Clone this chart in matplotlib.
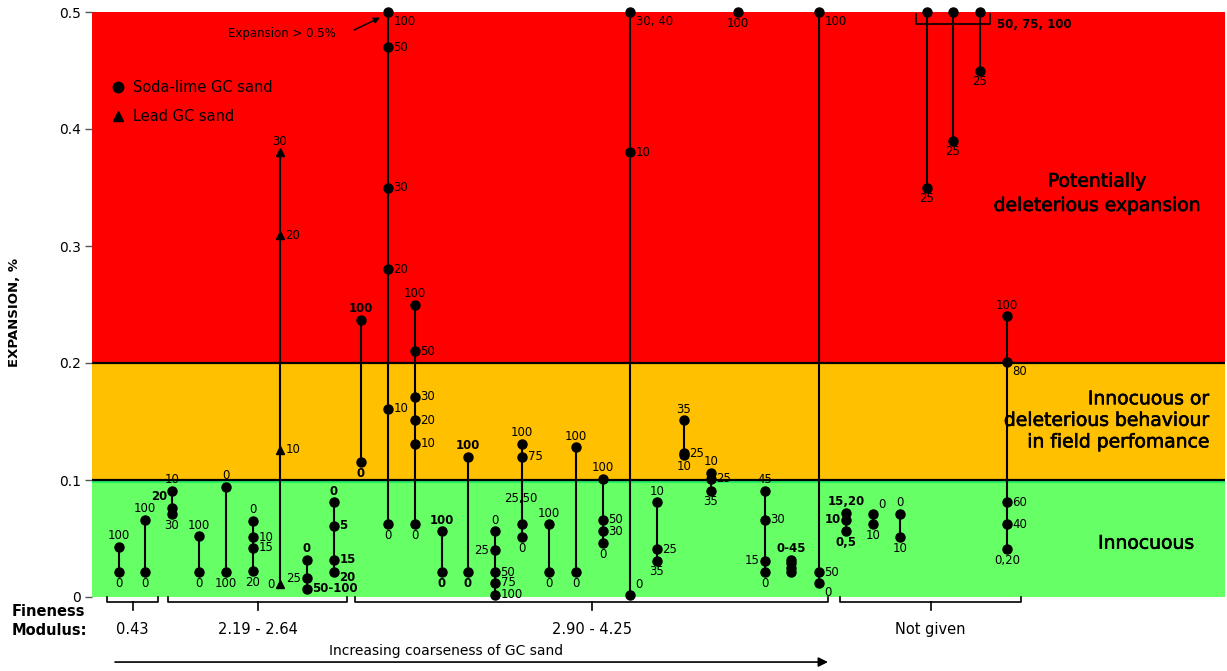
import matplotlib
matplotlib.use('Agg')
import matplotlib.pyplot as plt
import matplotlib.patheffects as pe
from matplotlib.lines import Line2D

# position of each test series along the schematic axis (left -> right)
x_pos = [119, 145, 172, 199, 226, 253, 280, 307, 334, 361, 388, 415, 442, 468, 495,
         522, 549, 576, 603, 630, 657, 684, 711, 738, 765, 791, 819, 846, 873, 900,
         927, 953, 980, 1007]

# sand type of each series
sand = ['soda'] * 34
sand[6] = 'lead'

# expansion (%) of each mix in a series
expansion = [
    [0.043, 0.021],
    [0.066, 0.021],
    [0.091, 0.076, 0.071],
    [0.052, 0.021],
    [0.094, 0.021],
    [0.065, 0.051, 0.042, 0.022],
    [0.011, 0.126, 0.309, 0.380],
    [0.032, 0.016, 0.007],
    [0.081, 0.061, 0.032, 0.021],
    [0.237, 0.115],
    [0.500, 0.470, 0.350, 0.280, 0.161, 0.062],
    [0.250, 0.210, 0.171, 0.151, 0.131, 0.062],
    [0.056, 0.021],
    [0.120, 0.021],
    [0.056, 0.040, 0.021, 0.012, 0.002],
    [0.131, 0.120, 0.062, 0.051],
    [0.062, 0.021],
    [0.128, 0.021],
    [0.101, 0.066, 0.056, 0.046],
    [0.500, 0.380, 0.002],
    [0.081, 0.041, 0.031],
    [0.151, 0.123, 0.121],
    [0.106, 0.101, 0.091],
    [0.500],
    [0.091, 0.066, 0.031, 0.021],
    [0.032, 0.029, 0.025, 0.021],
    [0.500, 0.021, 0.012],
    [0.072, 0.066, 0.056],
    [0.071, 0.062],
    [0.071, 0.051],
    [0.500, 0.350],
    [0.500, 0.390],
    [0.500, 0.450],
    [0.240, 0.201, 0.081, 0.062, 0.041],
]

# replacement level (%) written next to each point
pct_labels = [
    ['100', '0'],
    ['100', '0'],
    ['10', '20', '30'],
    ['100', '0'],
    ['0', '100'],
    ['0', '10', '15', '20'],
    ['0', '10', '20', '30'],
    ['0', '25', '50-100'],
    ['0', '5', '15', '20'],
    ['100', '0'],
    ['100', '50', '30', '20', '10', '0'],
    ['100', '50', '30', '20', '10', '0'],
    ['100', '0'],
    ['100', '0'],
    ['0', '25', '50', '75', '100'],
    ['100', '75', '25,50', '0'],
    ['100', '0'],
    ['100', '0'],
    ['100', '50', '30', '0'],
    ['30, 40', '10', '0'],
    ['10', '25', '35'],
    ['35', '25', '10'],
    ['10', '25', '35'],
    ['100'],
    ['45', '30', '15', '0'],
    ['0-45', '', '', ''],
    ['100', '50', '0'],
    ['15,20', '10', '0,5'],
    ['0', '10'],
    ['0', '10'],
    ['', '25'],
    ['', '25'],
    ['', '25'],
    ['100', '80', '60', '40', '0,20'],
]

# where each label sits relative to its point
label_side = [
    ['a', 'b'], ['a', 'b'], ['a', 'la', 'b'], ['a', 'b'], ['a', 'b'],
    ['a', 'r', 'r', 'b'], ['l', 'r', 'r', 'a'], ['a', 'l', 'r'], ['a', 'r', 'r', 'rs'],
    ['a', 'b'], ['rb', 'r', 'r', 'r', 'r', 'b'], ['a', 'r', 'r', 'r', 'r', 'b'],
    ['a', 'b'], ['a', 'b'], ['a', 'l', 'r', 'r', 'r'], ['a', 'r', 'aa', 'b'],
    ['a', 'b'], ['a', 'b'], ['a', 'r', 'r', 'b'], ['rb', 'r', 'ra'], ['a', 'r', 'b'],
    ['a', 'r', 'b'], ['a', 'r', 'b'], ['b'], ['a', 'r', 'l', 'b'], ['a', 'n', 'n', 'n'],
    ['rb', 'r', 'rb'], ['a', 'l', 'b'], ['ra', 'b'], ['a', 'b'], ['n', 'b'], ['n', 'b'],
    ['n', 'b'], ['a', 'rb', 'r', 'r', 'b'],
]

bold_labels = {(2, '20'), (7, '0'), (7, '50-100'), (8, '0'), (8, '5'), (8, '15'), (8, '20'),
               (9, '100'), (9, '0'), (12, '100'), (12, '0'), (13, '100'), (13, '0'),
               (25, '0-45'), (27, '15,20'), (27, '10'), (27, '0,5')}

fm_groups = ['0.43', '2.19 - 2.64', '2.90 - 4.25', 'Not given']
fm_start = [107, 168, 355, 840]
fm_end = [158, 347, 828, 1021]

offsets = {
    'a': (0, 8, 'center'), 'b': (0, -8, 'center'), 'r': (4, 0, 'left'),
    'l': (-4, 0, 'right'), 'rb': (4, -7, 'left'), 'ra': (4, 7, 'left'),
    'la': (-3, 8, 'right'), 'rs': (4, -4, 'left'), 'aa': (-1, 19, 'center'),
}

plt.rcParams['font.family'] = 'DejaVu Sans'
fig = plt.figure(figsize=(12.27, 6.71), dpi=100)
ax = fig.add_axes([92 / 1227, 74 / 671, 1133 / 1227, 585 / 671])
ax.set_xlim(92, 1225)
ax.set_ylim(0, 0.5)

# zones
ax.axhspan(0, 0.1, color='#66FF66', zorder=0, lw=0)
ax.axhspan(0.1, 0.2, color='#FFC000', zorder=0, lw=0)
ax.axhspan(0.2, 0.5, color='#FF0000', zorder=0, lw=0)
ax.axhspan(0.0972, 0.1, color='#22F060', zorder=0, lw=0)
ax.axhline(0.1, color='black', lw=1.6, zorder=1)
ax.axhline(0.2, color='black', lw=1.6, zorder=1)

for i, x in enumerate(x_pos):
    vals = expansion[i]
    marker = '^' if sand[i] == 'lead' else 'o'
    ms = 6 if sand[i] == 'lead' else 6.5
    if len(vals) > 1:
        ax.plot([x, x], [min(vals), max(vals)], color='black', lw=1.5, zorder=2,
                clip_on=False)
    ax.plot([x] * len(vals), vals, ls='none', marker=marker, ms=ms, color='black',
            zorder=3, clip_on=False)
    for v, lab, side in zip(vals, pct_labels[i], label_side[i]):
        if side == 'n' or lab == '':
            continue
        dx, dy, ha = offsets[side]
        w = 'bold' if (i, lab) in bold_labels else 'normal'
        ax.annotate(lab, (x, v), xytext=(dx, dy), textcoords='offset points',
                    ha=ha, va='center', fontsize=8.5, fontweight=w, zorder=4,
                    annotation_clip=False)

# bracket for the three top series
ax.plot([916, 916, 990, 990], [0.4983, 0.4897, 0.4897, 0.4983], color='black', lw=1.2,
        zorder=2)
ax.text(997, 0.4897, '50, 75, 100', fontsize=8.5, fontweight='bold', va='center',
        ha='left')

ax.text(282, 0.482, 'Expansion > 0.5%', ha='center', va='center', fontsize=8.5)
ax.annotate('', xy=(380, 0.4952), xytext=(354, 0.4846),
            arrowprops=dict(arrowstyle='-|>', color='black', lw=1, mutation_scale=9,
                            shrinkA=0, shrinkB=0))

# legend
handles = [Line2D([], [], ls='none', marker='o', ms=7.5, color='black'),
           Line2D([], [], ls='none', marker='^', ms=7, color='black')]
ax.legend(handles, ['Soda-lime GC sand', 'Lead GC sand'], loc='upper left',
          bbox_to_anchor=(0.0165, 0.884), frameon=False, fontsize=10.5,
          borderpad=0, borderaxespad=0, handlelength=1, handletextpad=0.55,
          labelspacing=1.0)

# zone labels
thick = [pe.withStroke(linewidth=0.45, foreground='black')]
ax.text(1097, 0.345, 'Potentially\ndeleterious expansion', ha='center', va='center',
        fontsize=13.5, linespacing=1.35, path_effects=thick)
ax.text(1209, 0.151, 'Innocuous or\ndeleterious behaviour\nin field perfomance',
        ha='right', va='center', multialignment='right', fontsize=13.5,
        linespacing=1.17, path_effects=thick)
ax.text(1146, 0.046, 'Innocuous', ha='center', va='center', fontsize=13.5,
        path_effects=thick)

# fineness modulus brackets under the plot
for lab, x0, x1 in zip(fm_groups, fm_start, fm_end):
    xc = (x0 + x1) / 2
    ax.plot([x0, x0, x1, x1], [0, -0.0043, -0.0043, 0], color='black', lw=1.2,
            clip_on=False)
    ax.plot([xc, xc], [-0.0043, -0.0111], color='black', lw=1.2, clip_on=False)
    ax.text(xc, -0.0274, lab, ha='center', va='center', fontsize=10.5, clip_on=False)

ax.text(12, -0.0125, 'Fineness', ha='left', va='center', fontsize=10.5,
        fontweight='bold', clip_on=False)
ax.text(12, -0.0285, 'Modulus:', ha='left', va='center', fontsize=10.5,
        fontweight='bold', clip_on=False)
ax.text(446, -0.0462, 'Increasing coarseness of GC sand', ha='center', va='center',
        fontsize=10, clip_on=False)
ax.annotate('', xy=(828, -0.0556), xytext=(115, -0.0556), annotation_clip=False,
            arrowprops=dict(arrowstyle='-|>', color='black', lw=1.2, mutation_scale=14,
                            shrinkA=0, shrinkB=0))

for s in ax.spines.values():
    s.set_visible(False)
ax.set_xticks([])
ax.set_yticks([0, 0.1, 0.2, 0.3, 0.4, 0.5])
ax.set_yticklabels(['0', '0.1', '0.2', '0.3', '0.4', '0.5'])
ax.tick_params(axis='y', length=5, width=1, color='#555555', labelsize=10, pad=3)

fig.text(15 / 1227, 0.535, 'EXPANSION, %', rotation=90, ha='center', va='center',
         fontsize=9.5, fontweight='bold')

fig.savefig('out.png', dpi=100)
